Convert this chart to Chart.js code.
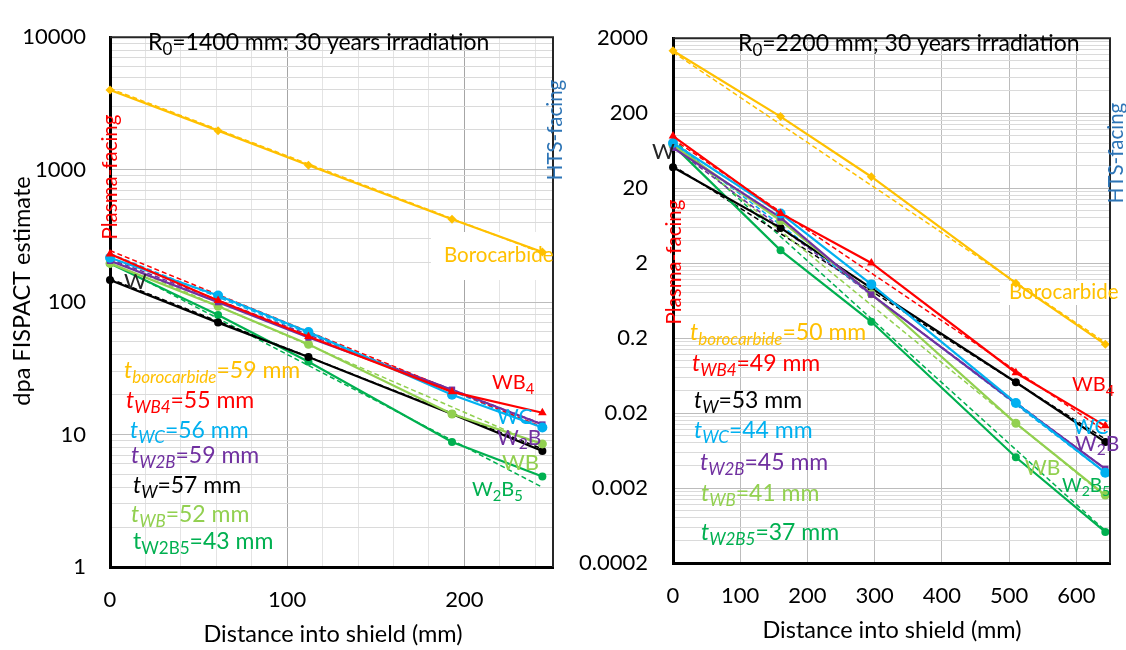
<!DOCTYPE html>
<html>
<head>
<meta charset="utf-8">
<script src="https://cdn.jsdelivr.net/npm/chart.js@4.4.1/dist/chart.umd.min.js"></script>
<style>
  html, body { margin: 0; padding: 0; background: #ffffff; }
  #wrap { position: relative; width: 1126px; height: 650px; overflow: hidden; }
  #wrap canvas { position: absolute; left: 0; top: 0; }
</style>
</head>
<body>
<div id="wrap">
  <canvas id="c1400" width="1126" height="650"></canvas>
  <canvas id="c2200" width="1126" height="650"></canvas>
</div>
<script>
// ---------------- data ----------------
// Depth into the shield (mm) at which dpa was evaluated
const depth1400 = [0, 61, 112, 193, 244];
const depth2200 = [0, 160, 295, 510, 643];

// R0 = 1400 mm, 30 years irradiation: dpa (FISPACT estimate)
const dpa1400_Borocarbide = [4000, 1970, 1080, 422, 239];
const dpa1400_WB4  = [231, 103, 55, 21, 14.6];
const dpa1400_WC   = [216, 112, 59.5, 20, 11.3];
const dpa1400_W2B  = [205, 100, 54, 21.8, 11.9];
const dpa1400_W    = [147, 70, 38.5, 14.3, 7.5];
const dpa1400_WB   = [196, 93, 48, 14.3, 8.5];
const dpa1400_W2B5 = [196, 80, 35.4, 8.8, 4.83];

// exponential trend lines, value at first and last depth
const fit1400_Borocarbide = [4100, 235];
const fit1400_WB4  = [245, 11.4];
const fit1400_WC   = [232, 11.3];
const fit1400_W2B  = [212, 12.0];
const fit1400_W    = [150, 7.8];
const fit1400_WB   = [210, 8.2];
const fit1400_W2B5 = [200, 4.0];

// R0 = 2200 mm, 30 years irradiation
const dpa2200_Borocarbide = [1360, 180, 28.4, 1.08, 0.165];
const dpa2200_WB4  = [99, 9.2, 2.01, 0.069, 0.0135];
const dpa2200_WC   = [80, 9.2, 1.04, 0.0273, 0.0032];
const dpa2200_W2B  = [69, 8.1, 0.76, 0.027, 0.0036];
const dpa2200_W    = [38, 5.9, 0.93, 0.0515, 0.0082];
const dpa2200_WB   = [75, 7.4, 0.78, 0.0146, 0.00161];
const dpa2200_W2B5 = [75, 2.96, 0.33, 0.00515, 0.00052];

const fit2200_Borocarbide = [1300, 0.175];
const fit2200_WB4  = [90, 0.0115];
const fit2200_WC   = [80, 0.0032];
const fit2200_W2B  = [70, 0.0036];
const fit2200_W    = [40, 0.009];
const fit2200_WB   = [80, 0.00155];
const fit2200_W2B5 = [90, 0.00054];

// half-value thicknesses (mm) quoted on each panel
const thickOrder1400 = ['Borocarbide', 'WB4', 'WC', 'W2B', 'W', 'WB', 'W2B5'];
const thick1400      = [59, 55, 56, 59, 57, 52, 43];
const thickOrder2200 = ['Borocarbide', 'WB4', 'W', 'WC', 'W2B', 'WB', 'W2B5'];
const thick2200      = [50, 49, 53, 44, 45, 41, 37];

// axis tick labels
const yTicks1400 = ['1', '10', '100', '1000', '10000'];
const yTicks2200 = ['0.0002', '0.002', '0.02', '0.2', '2', '20', '200', '2000'];
const xTicks1400 = [0, 100, 200];
const xTicks2200 = [0, 100, 200, 300, 400, 500, 600];

// ---------------- styling ----------------
const FONT = "Lato, 'Open Sans', 'Liberation Sans', sans-serif";
const TICK_SIZE = 22;
const MAT = {
  Borocarbide: { color: '#FFC000', point: 'rectRot', r: 4.5 },
  WB4:  { color: '#FF0000', point: 'triangle', r: 5 },
  WC:   { color: '#00B0F0', point: 'circle', r: 5 },
  W2B:  { color: '#7030A0', point: 'rect', r: 4.5 },
  W:    { color: '#000000', point: 'circle', r: 4 },
  WB:   { color: '#92D050', point: 'circle', r: 4.5 },
  W2B5: { color: '#00B050', point: 'circle', r: 4 }
};
const DRAW_ORDER = ['WB4', 'WC', 'W2B', 'WB', 'W', 'W2B5', 'Borocarbide'];
const SUBNAME = { Borocarbide: 'borocarbide', WB4: 'WB4', WC: 'WC', W2B: 'W2B', W: 'W', WB: 'WB', W2B5: 'W2B5' };

// ---------------- helpers ----------------
function seriesOf(depth, vals) { return vals.map((v, i) => ({ x: depth[i], y: v })); }

function buildDatasets(depth, series, fits) {
  const sets = [];
  DRAW_ORDER.forEach(m => {
    const s = MAT[m];
    sets.push({
      data: seriesOf(depth, series[m]), showLine: true,
      borderColor: s.color, backgroundColor: s.color, borderWidth: 2.2,
      pointStyle: s.point, pointRadius: s.r, pointBorderWidth: 0, clip: false
    });
  });
  DRAW_ORDER.forEach(m => {
    const s = MAT[m];
    sets.push({
      data: [{ x: depth[0], y: fits[m][0] }, { x: depth[depth.length - 1], y: fits[m][1] }],
      showLine: true, borderColor: s.color, borderWidth: 1.5, borderDash: [5, 3],
      pointRadius: 0, clip: false
    });
  });
  return sets;
}

function logGridValues(majors) {
  const out = [];
  majors.forEach((m, i) => {
    out.push(m);
    if (i < majors.length - 1) for (let k = 2; k < 10; k++) out.push(m * k);
  });
  return out;
}
const near = (a, b) => Math.abs(a / b - 1) < 1e-6;

// rich text: segments of {t, it, sub}; y is the centre of the capitals
const SUB_SCALE = 0.74;
function segFont(sg, size) {
  const fs = sg.sub ? size * SUB_SCALE : size;
  return (sg.it ? 'italic ' : '') + fs + 'px ' + FONT;
}
function richWidth(ctx, segs, size) {
  let w = 0;
  segs.forEach(sg => { ctx.font = segFont(sg, size); w += ctx.measureText(sg.t).width; });
  return w;
}
function drawRich(ctx, a) {
  const size = a.size;
  ctx.save();
  ctx.fillStyle = a.color;
  ctx.textBaseline = 'alphabetic';
  ctx.textAlign = 'left';
  let x = a.x, y = a.y;
  if (a.rotate) {
    ctx.translate(a.x, a.y);
    ctx.rotate(-Math.PI / 2);
    x = 0; y = 0;
  }
  const w = richWidth(ctx, a.segs, size);
  if (a.align === 'center') x -= w / 2;
  const base = y + size * 0.36;
  a.segs.forEach(sg => {
    ctx.font = segFont(sg, size);
    ctx.fillText(sg.t, x, base + (sg.sub ? size * 0.22 : 0));
    x += ctx.measureText(sg.t).width;
  });
  ctx.restore();
}

const NAME_SEGS = {
  WB4: [{ t: 'WB' }, { t: '4', sub: true }],
  WC: [{ t: 'WC' }],
  W2B: [{ t: 'W' }, { t: '2', sub: true }, { t: 'B' }],
  WB: [{ t: 'WB' }],
  W2B5: [{ t: 'W' }, { t: '2', sub: true }, { t: 'B' }, { t: '5', sub: true }]
};
function thickSegs(m, v, italic) {
  return [{ t: 't', it: italic }, { t: SUBNAME[m], it: italic, sub: true }, { t: '=' + v + ' mm' }];
}

function panelPlugin(notes, boxes) {
  return {
    id: 'panelNotes',
    beforeDatasetsDraw(chart) {
      const ctx = chart.ctx;
      ctx.save();
      ctx.fillStyle = '#ffffff';
      boxes.forEach(b => ctx.fillRect(b[0], b[1], b[2], b[3]));
      ctx.restore();
    },
    afterDraw(chart) {
      const ctx = chart.ctx, a = chart.chartArea;
      ctx.save();
      ctx.strokeStyle = '#262626';
      ctx.lineWidth = 2;
      ctx.beginPath();
      ctx.moveTo(a.left, a.top); ctx.lineTo(a.right, a.top); ctx.lineTo(a.right, a.bottom);
      ctx.stroke();
      ctx.restore();
      notes.forEach(n => drawRich(ctx, n));
    }
  };
}

function makeChart(id, cfg) {
  const majorsY = cfg.yTicks.map(Number);
  return new Chart(document.getElementById(id), {
    type: 'scatter',
    data: { datasets: cfg.datasets },
    options: {
      responsive: false, animation: false, devicePixelRatio: 1,
      layout: { padding: cfg.padding },
      plugins: { legend: { display: false }, tooltip: { enabled: false } },
      scales: {
        x: {
          type: 'linear', min: 0, max: cfg.xMax,
          afterBuildTicks: s => { s.ticks = cfg.xGrid.map(v => ({ value: v })); },
          afterFit: s => { s.height = 40; },
          ticks: {
            autoSkip: false, maxRotation: 0, padding: 20, color: '#000',
            font: { family: FONT, size: TICK_SIZE },
            callback: v => (cfg.xTicks.includes(v) ? String(v) : '')
          },
          grid: {
            drawTicks: false, lineWidth: 1,
            color: c => (cfg.xTicks.includes(c.tick.value) ? cfg.xMajorColor : cfg.xMinorColor)
          },
          border: { color: '#000', width: 3 }
        },
        y: {
          type: 'logarithmic', min: majorsY[0], max: majorsY[majorsY.length - 1],
          afterBuildTicks: s => { s.ticks = logGridValues(majorsY).map(v => ({ value: v })); },
          afterFit: s => { s.width = cfg.yWidth; },
          ticks: {
            autoSkip: false, padding: cfg.yPad, color: '#000',
            font: { family: FONT, size: TICK_SIZE },
            callback: v => {
              const i = majorsY.findIndex(m => near(v, m));
              return i >= 0 ? cfg.yTicks[i] : '';
            }
          },
          grid: {
            drawTicks: false, lineWidth: 1,
            color: c => (majorsY.some(m => near(c.tick.value, m)) ? '#bcbcbc' : '#dadada')
          },
          border: { color: '#000', width: 3 }
        }
      }
    },
    plugins: [panelPlugin(cfg.notes, cfg.boxes)]
  });
}

// ---------------- panels ----------------
function drawAll() {
  const s1400 = { Borocarbide: dpa1400_Borocarbide, WB4: dpa1400_WB4, WC: dpa1400_WC, W2B: dpa1400_W2B, W: dpa1400_W, WB: dpa1400_WB, W2B5: dpa1400_W2B5 };
  const f1400 = { Borocarbide: fit1400_Borocarbide, WB4: fit1400_WB4, WC: fit1400_WC, W2B: fit1400_W2B, W: fit1400_W, WB: fit1400_WB, W2B5: fit1400_W2B5 };
  const s2200 = { Borocarbide: dpa2200_Borocarbide, WB4: dpa2200_WB4, WC: dpa2200_WC, W2B: dpa2200_W2B, W: dpa2200_W, WB: dpa2200_WB, W2B5: dpa2200_W2B5 };
  const f2200 = { Borocarbide: fit2200_Borocarbide, WB4: fit2200_WB4, WC: fit2200_WC, W2B: fit2200_W2B, W: fit2200_W, WB: fit2200_WB, W2B5: fit2200_W2B5 };

  // label placement for the 1400 mm panel
  const thickPos1400 = [[124, 370], [126, 400], [130, 430], [131, 455], [133, 485], [131, 514], [133, 541]];
  const notes1400 = [
    { segs: [{ t: 'R' }, { t: '0', sub: true }, { t: '=1400 mm: 30 years irradiation' }], x: 148, y: 42, size: 23, color: '#000' },
    { segs: [{ t: 'dpa FISPACT estimate' }], x: 22, y: 291, size: 23.5, color: '#000', rotate: true, align: 'center' },
    { segs: [{ t: 'Distance into shield (mm)' }], x: 333, y: 634, size: 23.5, color: '#000', align: 'center' },
    { segs: [{ t: 'Plasma-facing' }], x: 110, y: 177, size: 20.5, color: '#FF0000', rotate: true, align: 'center' },
    { segs: [{ t: 'HTS-facing' }], x: 555, y: 130, size: 20.5, color: '#2E75B6', rotate: true, align: 'center' },
    { segs: [{ t: 'Borocarbide' }], x: 444, y: 255, size: 20.5, color: '#FFC000' },
    { segs: [{ t: 'W' }], x: 124, y: 281, size: 22, color: '#262626' },
    { segs: NAME_SEGS.WB4, x: 492, y: 382, size: 20, color: MAT.WB4.color },
    { segs: NAME_SEGS.WC, x: 497, y: 416, size: 21, color: MAT.WC.color },
    { segs: NAME_SEGS.W2B, x: 497, y: 437, size: 21, color: MAT.W2B.color },
    { segs: NAME_SEGS.WB, x: 502, y: 462, size: 22, color: MAT.WB.color },
    { segs: NAME_SEGS.W2B5, x: 472, y: 489, size: 20, color: MAT.W2B5.color }
  ];
  thickOrder1400.forEach((m, i) => {
    notes1400.push({ segs: thickSegs(m, thick1400[i], m !== 'W2B5'), x: thickPos1400[i][0], y: thickPos1400[i][1], size: 23, color: MAT[m].color });
  });

  makeChart('c1400', {
    datasets: buildDatasets(depth1400, s1400, f1400),
    padding: { left: 0, right: 573, top: 17, bottom: 43 },
    xMax: 250, xGrid: [0, 20, 40, 60, 80, 100, 120, 140, 160, 180, 200, 220, 240], xTicks: xTicks1400,
    xMajorColor: '#a6a6a6', xMinorColor: '#e4e4e4',
    yTicks: yTicks1400, yWidth: 110, yPad: 24,
    notes: notes1400, boxes: [[431, 232, 121, 48]]
  });

  // label placement for the 2200 mm panel
  const thickPos2200 = [[690, 332], [692, 363], [694, 400], [694, 430], [700, 462], [701, 493], [701, 532]];
  const notes2200 = [
    { segs: [{ t: 'R' }, { t: '0', sub: true }, { t: '=2200 mm; 30 years irradiation' }], x: 738, y: 43, size: 23, color: '#000' },
    { segs: [{ t: 'Distance into shield (mm)' }], x: 892, y: 630, size: 23.5, color: '#000', align: 'center' },
    { segs: [{ t: 'Plasma-facing' }], x: 674, y: 262, size: 20.5, color: '#FF0000', rotate: true, align: 'center' },
    { segs: [{ t: 'HTS-facing' }], x: 1116, y: 153, size: 20.5, color: '#2E75B6', rotate: true, align: 'center' },
    { segs: [{ t: 'Borocarbide' }], x: 1009, y: 292, size: 20.5, color: '#FFC000' },
    { segs: [{ t: 'W' }], x: 652, y: 151, size: 22, color: '#262626' },
    { segs: NAME_SEGS.WB4, x: 1072, y: 384, size: 20, color: MAT.WB4.color },
    { segs: NAME_SEGS.WC, x: 1073, y: 426, size: 21, color: MAT.WC.color },
    { segs: NAME_SEGS.W2B, x: 1075, y: 443, size: 21, color: MAT.W2B.color },
    { segs: NAME_SEGS.WB, x: 1025, y: 467, size: 21, color: MAT.WB.color },
    { segs: NAME_SEGS.W2B5, x: 1062, y: 485, size: 19, color: MAT.W2B5.color }
  ];
  thickOrder2200.forEach((m, i) => {
    notes2200.push({ segs: thickSegs(m, thick2200[i], true), x: thickPos2200[i][0], y: thickPos2200[i][1], size: 23, color: MAT[m].color });
  });

  makeChart('c2200', {
    datasets: buildDatasets(depth2200, s2200, f2200),
    padding: { left: 575, right: 16, top: 22, bottom: 47 },
    xMax: 650, xGrid: xTicks2200, xTicks: xTicks2200,
    xMajorColor: '#bcbcbc', xMinorColor: '#bcbcbc',
    yTicks: yTicks2200, yWidth: 98, yPad: 25,
    notes: notes2200, boxes: [[1000, 281, 110, 24]]
  });
}

Promise.all([
  document.fonts.load('21px Lato'),
  document.fonts.load('italic 21px Lato')
]).catch(() => {}).then(drawAll);
</script>
</body>
</html>
